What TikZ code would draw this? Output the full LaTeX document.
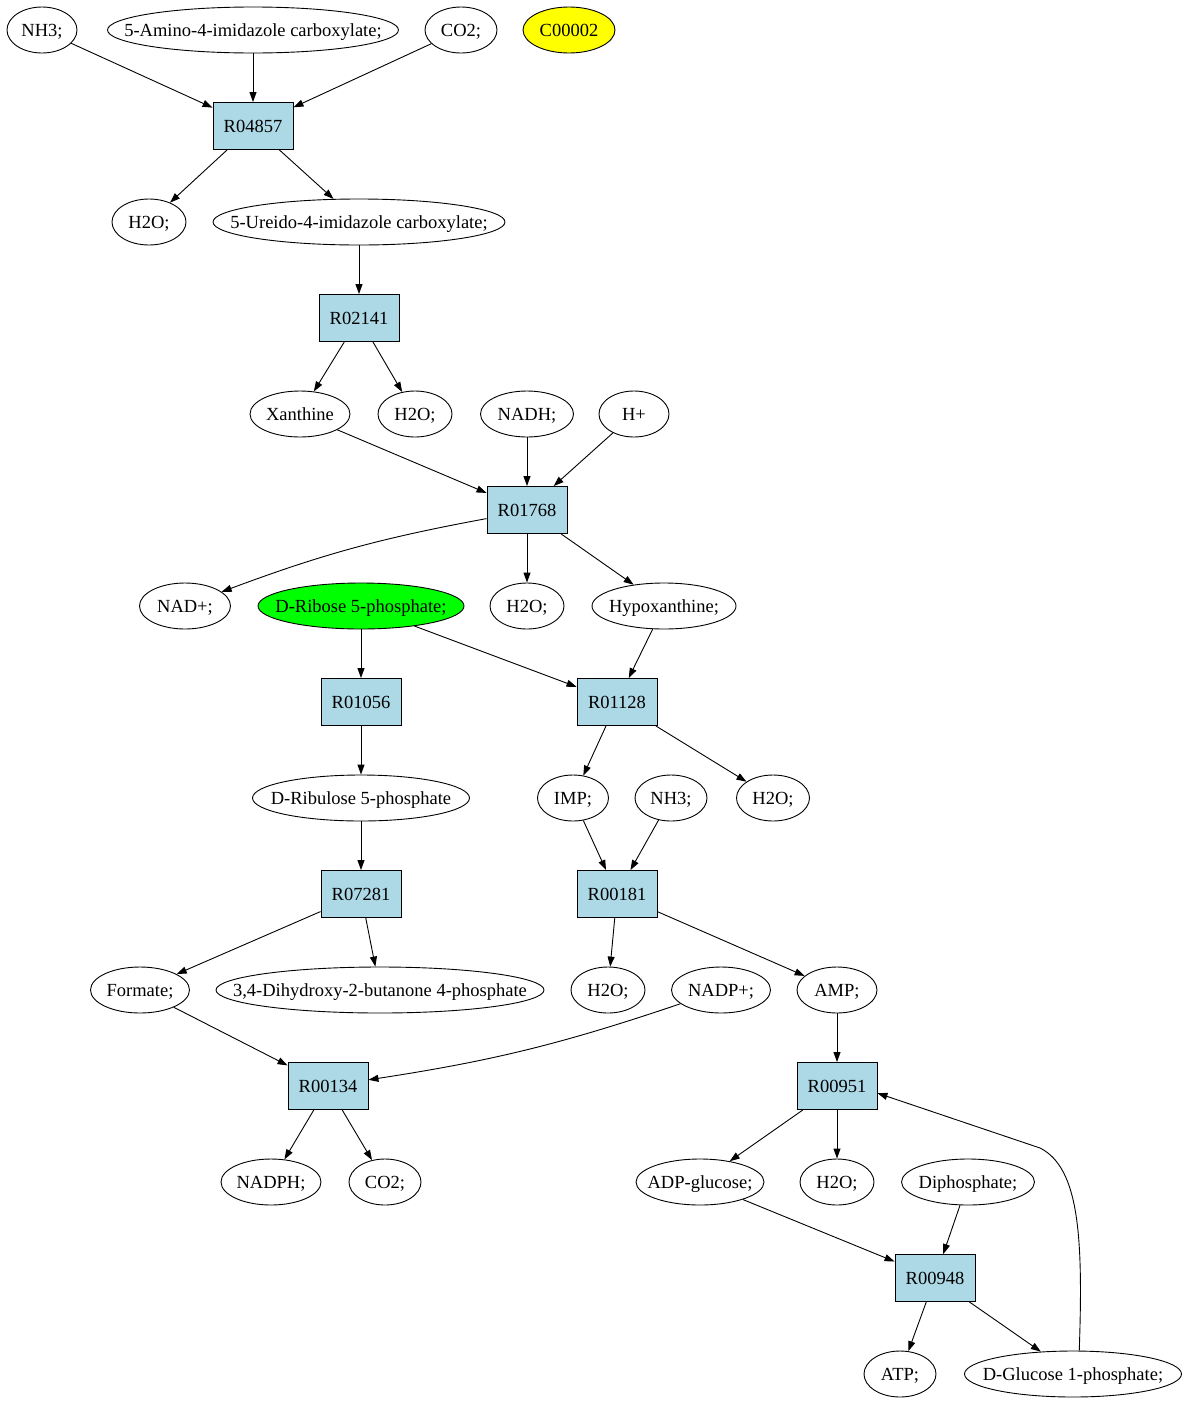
\documentclass[tikz,border=0pt]{standalone}
\usepackage{fontspec}
\setmainfont{Liberation Serif}
\usetikzlibrary{shapes.geometric,arrows.meta}
\definecolor{rxnblue}{HTML}{ADD8E6}
\definecolor{cpdyellow}{HTML}{FFFF00}
\definecolor{cpdgreen}{HTML}{00FF00}
\tikzstyle{met}=[ellipse,draw=black,line width=0.9pt,inner sep=0pt,minimum height=46pt,text centered,
  execute at begin node={\setbox0=\hbox\bgroup},execute at end node={\egroup\makebox[0pt]{\raisebox{-6.5pt}[0pt][0pt]{\box0}}}]
\tikzstyle{rxn}=[rectangle,draw=black,line width=0.9pt,fill=rxnblue,minimum width=80pt,minimum height=47pt,text centered]

\begin{document}
\begin{tikzpicture}[x=1pt,y=-1pt,>={Triangle[length=10pt,width=7pt]},every path/.style={line width=0.9pt},font=\fontsize{18.5}{22}\selectfont]
\useasboundingbox (0,0) rectangle (1188,1403);
\node(nhthreea)[met,minimum width=70pt] at (42,30){NH3;};
\node(amino)[met,minimum width=291pt] at (253,30){5-Amino-4-imidazole carboxylate;};
\node(cotwoa)[met,minimum width=72pt] at (461,30){CO2;};
\node(cpd)[met,minimum width=92pt,fill=cpdyellow] at (569,30){C00002};
\node(rfour)[rxn] at (253,126){R04857};
\node(watera)[met,minimum width=74pt] at (149,222){H2O;};
\node(ureido)[met,minimum width=292pt] at (359,222){5-Ureido-4-imidazole carboxylate;};
\node(rtwo)[rxn] at (359,318){R02141};
\node(xanthine)[met,minimum width=100pt] at (300,414){Xanthine};
\node(waterb)[met,minimum width=74pt] at (415,414){H2O;};
\node(nadh)[met,minimum width=93pt] at (527,414){NADH;};
\node(hplus)[met,minimum width=70pt] at (634,414){H+};
\node(rseventeen)[rxn] at (527,510){R01768};
\node(nad)[met,minimum width=91pt] at (185,606){NAD+;};
\node(ribose)[met,minimum width=206pt,fill=cpdgreen] at (361,606){D-Ribose 5-phosphate;};
\node(waterc)[met,minimum width=74pt] at (527,606){H2O;};
\node(hypox)[met,minimum width=144pt] at (664,606){Hypoxanthine;};
\node(rten)[rxn] at (361,702){R01056};
\node(releven)[rxn] at (617,702){R01128};
\node(ribulose)[met,minimum width=217pt] at (361,798){D-Ribulose 5-phosphate};
\node(imp)[met,minimum width=71pt] at (573,798){IMP;};
\node(nhthreeb)[met,minimum width=72pt] at (671,798){NH3;};
\node(waterd)[met,minimum width=73pt] at (773,798){H2O;};
\node(rseventy)[rxn] at (361,894){R07281};
\node(rone)[rxn] at (617,894){R00181};
\node(formate)[met,minimum width=99pt] at (140,990){Formate;};
\node(dihydroxy)[met,minimum width=328pt] at (380,990){3,4-Dihydroxy-2-butanone 4-phosphate};
\node(watere)[met,minimum width=74pt] at (608,990){H2O;};
\node(nadp)[met,minimum width=99pt] at (721,990){NADP+;};
\node(amp)[met,minimum width=80pt] at (837,990){AMP;};
\node(rthirteen)[rxn] at (328,1086){R00134};
\node(rninefive)[rxn] at (837,1086){R00951};
\node(nadph)[met,minimum width=100pt] at (271,1182){NADPH;};
\node(cotwob)[met,minimum width=72pt] at (385,1182){CO2;};
\node(adpglc)[met,minimum width=128pt] at (700,1182){ADP-glucose;};
\node(waterf)[met,minimum width=74pt] at (837,1182){H2O;};
\node(diphos)[met,minimum width=133pt] at (968,1182){Diphosphate;};
\node(rninefour)[rxn] at (935,1278){R00948};
\node(atp)[met,minimum width=72pt] at (900,1374){ATP;};
\node(glucose)[met,minimum width=217pt] at (1073,1374){D-Glucose 1-phosphate;};
\draw[->](nhthreea)--(rfour);
\draw[->](amino)--(rfour);
\draw[->](cotwoa)--(rfour);
\draw[->](rfour)--(watera);
\draw[->](rfour)--(ureido);
\draw[->](ureido)--(rtwo);
\draw[->](rtwo)--(xanthine);
\draw[->](rtwo)--(waterb);
\draw[->](xanthine)--(rseventeen);
\draw[->](nadh)--(rseventeen);
\draw[->](hplus)--(rseventeen);
\draw[->](rseventeen.-168) to[bend right=5] (nad);
\draw[->](rseventeen)--(waterc);
\draw[->](rseventeen)--(hypox);
\draw[->](ribose)--(rten);
\draw[->](ribose)--(releven);
\draw[->](hypox)--(releven);
\draw[->](rten)--(ribulose);
\draw[->](releven)--(imp);
\draw[->](releven)--(waterd);
\draw[->](ribulose)--(rseventy);
\draw[->](imp)--(rone);
\draw[->](nhthreeb)--(rone);
\draw[->](rseventy)--(formate);
\draw[->](rseventy)--(dihydroxy);
\draw[->](rone)--(watere);
\draw[->](rone)--(amp);
\draw[->](formate)--(rthirteen);
\draw[->](nadp) to[bend left=5] (rthirteen);
\draw[->](amp)--(rninefive);
\draw[->](rthirteen)--(nadph);
\draw[->](rthirteen)--(cotwob);
\draw[->](rninefive)--(adpglc);
\draw[->](rninefive)--(waterf);
\draw[->](adpglc)--(rninefour);
\draw[->](diphos)--(rninefour);
\draw[->](rninefour)--(atp);
\draw[->](rninefour)--(glucose);
\draw[->](glucose.75) .. controls (1083,1240) and (1080,1168) .. (1040,1148) -- (rninefive.-10);
\end{tikzpicture}
\end{document}
